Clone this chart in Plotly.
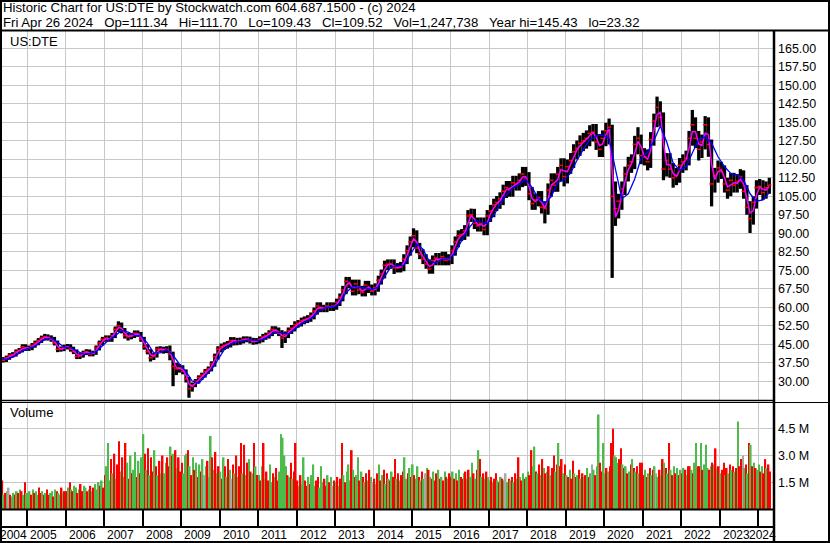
import plotly.graph_objects as go
import pandas as pd

W, H = 830, 543
FONT = 'Liberation Sans, Arial, sans-serif'
DAY = 86400000

title_1 = 'Historic Chart for US:DTE by Stockwatch.com 604.687.1500 - (c) 2024'
title_2 = ('Fri Apr 26 2024\u00a0\u00a0 Op=111.34\u00a0\u00a0 Hi=111.70\u00a0\u00a0 Lo=109.43\u00a0\u00a0 '
           'Cl=109.52\u00a0\u00a0 Vol=1,247,738\u00a0\u00a0 Year hi=145.43\u00a0\u00a0 lo=23.32')
symbol = 'US:DTE'

years = [2004, 2005, 2006, 2007, 2008, 2009, 2010, 2011, 2012, 2013, 2014,
         2015, 2016, 2017, 2018, 2019, 2020, 2021, 2022, 2023, 2024]
price_ticks = [30.0, 37.5, 45.0, 52.5, 60.0, 67.5, 75.0, 82.5, 90.0, 97.5, 105.0,
               112.5, 120.0, 127.5, 135.0, 142.5, 150.0, 157.5, 165.0]
vol_ticks = [1.5, 3.0, 4.5]
vol_tick_text = ['1.5 M', '3.0 M', '4.5 M']

# monthly bars, Apr 2004 .. Apr 2024 (one row per year)
px_hi = [
    40.2, 39.8, 40.4, 41.4, 41.8, 42.9, 43.5, 45.0, 45.0,
    44.5, 45.5, 46.5, 47.5, 48.5, 49.2, 49.0, 48.6, 48.0, 46.5, 44.1, 44.8,
    45.1, 45.0, 44.0, 42.9, 41.4, 42.4, 43.0, 42.9, 42.4, 44.5, 46.5, 48.0,
    48.6, 48.6, 49.6, 52.2, 54.3, 53.8, 51.6, 49.6, 49.6, 50.6, 50.6, 50.0,
    48.0, 45.0, 43.0, 41.5, 44.0, 44.2, 44.0, 44.2, 44.5, 42.0, 37.5, 37.0,
    36.5, 34.8, 31.8, 29.5, 30.9, 32.4, 33.5, 35.0, 36.0, 38.1, 41.2, 44.2,
    45.3, 45.8, 46.3, 47.9, 47.9, 47.6, 47.7, 48.2, 48.2, 48.1, 47.6, 47.5,
    48.2, 49.2, 49.7, 50.7, 52.3, 52.3, 51.8, 50.7, 50.2, 51.8, 52.8, 54.3,
    54.8, 55.8, 56.3, 56.8, 57.9, 59.9, 62.0, 62.0, 61.0, 62.0, 62.0, 62.0,
    63.5, 65.6, 68.7, 72.3, 72.3, 71.2, 71.2, 71.2, 68.7, 70.7, 70.7, 69.2,
    69.7, 72.8, 75.3, 78.9, 79.4, 79.4, 79.4, 77.9, 78.4, 81.5, 85.1, 88.7,
    92.0, 91.2, 86.1, 83.5, 81.5, 79.4, 81.0, 82.0, 82.0, 82.5, 82.5, 81.5,
    85.1, 88.7, 91.2, 91.7, 93.3, 99.4, 100.0, 99.9, 96.4, 96.4, 96.4, 99.4,
    101.5, 104.0, 105.1, 106.6, 109.7, 111.2, 111.2, 113.3, 113.3, 114.3, 116.9, 116.9,
    114.8, 108.7, 106.1, 107.1, 107.1, 103.0, 110.2, 114.3, 114.3, 116.9, 120.4, 120.4,
    119.9, 122.5, 126.1, 127.6, 129.7, 130.7, 131.7, 133.8, 134.3, 134.3, 130.2, 131.7,
    134.8, 136.5, 134.0, 111.0, 106.0, 111.0, 117.0, 121.0, 122.0, 129.5, 133.0, 130.0,
    124.5, 124.0, 131.0, 138.5, 145.4, 143.5, 139.0, 122.5, 122.5, 118.5, 116.5, 120.5,
    122.0, 123.5, 131.5, 140.0, 137.0, 131.5, 130.0, 137.5, 137.0, 128.0, 116.5, 119.5,
    119.0, 117.5, 112.5, 114.5, 114.5, 114.0, 116.0, 115.5, 109.5, 103.0, 105.0, 111.5,
    112.0, 111.5, 111.0, 112.5,
]
px_lo = [
    38.2, 37.6, 37.8, 38.7, 39.6, 40.0, 41.2, 41.7, 42.3,
    42.3, 42.6, 43.6, 44.6, 45.5, 46.5, 46.5, 46.0, 44.5, 41.8, 42.0, 42.2,
    42.9, 42.0, 41.0, 39.0, 39.0, 39.6, 40.6, 40.1, 40.1, 40.7, 42.5, 44.5,
    46.0, 46.0, 46.0, 47.5, 50.0, 49.4, 47.3, 46.5, 47.0, 47.5, 48.0, 46.0,
    42.8, 40.9, 38.0, 38.6, 39.6, 41.8, 41.2, 41.4, 38.5, 28.0, 32.5, 33.5,
    32.8, 29.5, 23.3, 25.8, 27.6, 29.1, 30.5, 31.5, 33.0, 34.0, 35.9, 38.8,
    41.7, 42.7, 43.2, 43.7, 44.5, 44.6, 44.8, 45.3, 45.8, 45.3, 44.8, 45.0,
    45.3, 45.8, 46.8, 47.3, 48.3, 49.2, 48.3, 43.5, 45.5, 47.5, 49.2, 50.2,
    51.7, 52.2, 53.1, 53.6, 54.1, 55.1, 57.0, 58.0, 58.0, 58.0, 58.5, 58.5,
    59.0, 60.5, 62.4, 65.3, 67.8, 64.8, 64.8, 65.3, 64.4, 64.4, 65.8, 64.8,
    64.8, 66.3, 69.2, 71.7, 75.1, 75.6, 73.5, 74.1, 74.1, 74.6, 77.5, 80.9,
    84.3, 81.9, 79.5, 77.5, 75.6, 73.6, 73.6, 77.0, 77.0, 77.0, 77.0, 77.0,
    77.5, 80.9, 84.3, 86.8, 87.3, 88.7, 94.6, 91.7, 90.7, 90.7, 89.2, 89.2,
    94.6, 96.5, 99.0, 99.9, 101.4, 104.3, 104.8, 104.8, 107.3, 107.3, 108.7, 109.2,
    103.4, 99.5, 99.5, 100.9, 98.0, 94.0, 97.5, 104.8, 106.8, 106.8, 111.2, 109.0,
    110.2, 114.1, 116.5, 120.0, 121.4, 123.3, 124.3, 125.3, 127.2, 123.8, 120.9, 120.9,
    125.3, 126.0, 71.9, 93.0, 96.0, 99.5, 105.5, 111.0, 114.5, 116.0, 122.0, 118.0,
    117.5, 115.5, 116.5, 125.5, 133.0, 133.5, 111.5, 113.0, 112.5, 108.5, 109.5, 110.5,
    114.5, 115.5, 117.5, 125.5, 124.5, 119.5, 120.5, 124.0, 121.0, 100.9, 106.5, 110.5,
    112.0, 106.5, 104.0, 105.0, 106.5, 106.5, 108.0, 104.0, 97.5, 90.1, 93.5, 100.0,
    105.5, 103.5, 104.0, 106.0,
]
px_cl = [
    39.0, 38.5, 39.5, 40.5, 40.8, 42.0, 42.5, 44.0, 43.2,
    43.5, 44.5, 45.5, 46.5, 47.5, 48.0, 47.5, 47.0, 45.5, 43.0, 43.0, 43.8,
    44.0, 43.0, 42.0, 40.0, 40.5, 41.5, 42.0, 41.0, 41.5, 43.5, 45.5, 47.0,
    47.5, 47.0, 48.5, 51.0, 52.5, 50.5, 48.5, 48.0, 48.5, 49.5, 49.0, 47.0,
    44.0, 42.0, 39.5, 40.5, 43.0, 43.0, 42.5, 43.0, 41.0, 36.0, 35.0, 35.5,
    34.0, 31.0, 27.0, 28.5, 30.0, 31.5, 32.5, 34.0, 35.0, 37.0, 40.0, 43.0,
    44.0, 44.5, 45.0, 46.5, 46.5, 46.0, 46.5, 47.0, 47.0, 46.5, 46.0, 46.5,
    47.0, 48.0, 48.5, 49.5, 51.0, 50.5, 49.5, 47.5, 49.0, 50.5, 51.5, 53.0,
    53.5, 54.5, 55.0, 55.5, 56.5, 58.5, 60.5, 59.5, 59.5, 60.5, 60.0, 60.5,
    62.0, 64.0, 67.0, 70.5, 69.5, 66.5, 69.5, 67.0, 66.0, 69.0, 67.5, 66.5,
    68.0, 71.0, 73.5, 77.0, 77.5, 77.5, 76.0, 76.0, 76.5, 79.5, 83.0, 86.5,
    89.0, 84.0, 81.5, 79.5, 77.5, 75.5, 79.0, 80.0, 79.0, 80.5, 79.0, 79.5,
    83.0, 86.5, 89.0, 89.5, 91.0, 97.0, 97.5, 94.0, 93.0, 94.0, 91.5, 97.0,
    99.0, 101.5, 102.5, 104.0, 107.0, 108.5, 107.5, 110.5, 110.0, 111.5, 114.0, 112.0,
    106.0, 102.0, 103.5, 104.5, 100.5, 100.0, 107.5, 111.5, 109.5, 114.0, 117.5, 113.0,
    117.0, 119.5, 123.0, 124.5, 126.5, 127.5, 128.5, 130.5, 131.0, 127.0, 124.0, 128.5,
    131.5, 133.0, 105.0, 100.0, 103.0, 108.0, 114.0, 117.5, 119.0, 126.0, 128.5, 121.5,
    121.0, 119.0, 128.0, 135.5, 141.0, 137.0, 116.0, 119.5, 116.0, 112.5, 113.5, 117.5,
    119.0, 120.5, 128.5, 134.0, 128.5, 124.0, 127.0, 134.0, 126.0, 110.0, 113.5, 116.5,
    115.0, 110.0, 107.5, 111.5, 109.5, 111.0, 113.0, 107.0, 100.5, 96.0, 102.5, 108.5,
    109.0, 106.5, 108.5, 109.5,
]
# magenta average, monthly
ma_fast = [
    39.2, 38.8, 39.0, 40.0, 40.6, 41.4, 42.2, 43.2, 43.6,
    43.4, 44.0, 45.0, 46.0, 47.0, 47.8, 47.8, 47.2, 46.2, 44.2, 43.0, 43.4,
    43.9, 43.5, 42.5, 41.0, 40.2, 41.0, 41.8, 41.5, 41.2, 42.5, 44.5, 46.2,
    47.2, 47.2, 47.8, 49.8, 51.8, 51.5, 49.5, 48.2, 48.2, 49.0, 49.2, 48.0,
    45.5, 43.0, 40.8, 40.0, 41.8, 43.0, 42.8, 42.8, 42.0, 38.5, 35.5, 35.2,
    34.8, 32.5, 29.0, 27.8, 29.2, 30.8, 32.0, 33.2, 34.5, 36.0, 38.5, 41.5,
    43.5, 44.2, 44.8, 45.8, 46.5, 46.2, 46.2, 46.8, 47.0, 46.8, 46.2, 46.2,
    46.8, 47.5, 48.2, 49.0, 50.2, 50.8, 50.0, 48.5, 48.2, 49.8, 51.0, 52.2,
    53.2, 54.0, 54.8, 55.2, 56.0, 57.5, 59.5, 60.0, 59.5, 60.0, 60.2, 60.2,
    61.2, 63.0, 65.5, 68.8, 70.0, 68.0, 68.0, 68.2, 66.5, 67.5, 68.2, 67.0,
    67.2, 69.5, 72.2, 75.2, 77.2, 77.5, 76.8, 76.0, 76.2, 78.0, 81.2, 84.8,
    87.8, 86.5, 82.8, 80.5, 78.5, 76.5, 77.2, 79.5, 79.5, 79.8, 79.8, 79.2,
    81.2, 84.8, 87.8, 89.2, 90.2, 94.0, 97.2, 95.8, 93.5, 93.5, 92.8, 94.2,
    98.0, 100.2, 102.0, 103.2, 105.5, 107.8, 108.0, 109.0, 110.2, 110.8, 112.8, 113.0,
    109.0, 104.0, 102.8, 104.0, 102.5, 100.2, 103.8, 109.5, 110.5, 111.8, 115.8, 115.2,
    115.0, 118.2, 121.2, 123.8, 125.5, 127.0, 128.0, 129.5, 130.8, 129.0, 125.5, 126.2,
    130.0, 132.2, 115.0, 96.5, 99.5, 105.5, 111.0, 115.8, 118.2, 122.5, 127.2, 125.0,
    121.2, 120.0, 123.5, 131.8, 138.2, 139.0, 126.5, 117.8, 117.8, 114.2, 113.0, 115.5,
    118.2, 119.8, 124.5, 131.2, 131.2, 126.2, 125.5, 130.5, 130.0, 118.0, 111.8, 115.0,
    115.8, 112.5, 108.8, 109.5, 110.5, 110.2, 112.0, 110.0, 103.8, 98.2, 99.2, 105.5,
    108.8, 107.8, 107.5, 109.0,
]
# blue average, every second month from Apr 2004
ma_slow = [
    38.9, 39.0, 39.8, 41.5, 42.9,
    43.8, 45.0, 46.9, 47.5, 45.8, 43.8,
    43.5, 42.2, 41.0, 41.2, 42.0, 44.4,
    46.8, 48.5, 50.6, 49.9, 48.6, 48.5,
    45.5, 41.5, 41.5, 42.9, 40.6, 36.9,
    33.9, 30.1, 29.2, 32.0, 34.6, 38.8,
    42.9, 45.0, 46.0, 46.5, 46.8, 46.5,
    46.9, 48.2, 49.9, 49.6, 49.1, 51.0,
    53.1, 54.6, 56.4, 58.8, 60.0, 60.1,
    61.6, 65.9, 68.4, 68.1, 67.9, 67.2,
    68.2, 72.4, 76.4, 76.8, 77.0, 81.4,
    85.6, 83.5, 78.5, 78.0, 79.6, 79.5,
    82.0, 87.0, 91.6, 94.9, 94.6, 93.9,
    97.2, 101.8, 105.5, 108.4, 109.9, 111.9,
    108.5, 104.0, 102.1, 104.9, 110.6, 111.5,
    114.5, 119.5, 124.0, 127.8, 129.5, 129.8,
    128.5, 116.0, 104.0, 106.0, 112.0, 120.5,
    123.0, 127.5, 133.5, 127.0, 118.5, 115.6,
    116.9, 122.5, 128.0, 129.1, 126.5, 121.0,
    117.0, 114.3, 113.6, 111.6, 106.0, 103.0,
    103.5, 106.5,
]
# volume in millions, half-month bars from mid Apr 2004
vol = [
    0.9, 1.6, 0.8, 0.9, 1.0, 1.2, 0.8, 0.7, 0.9, 0.8, 1.0, 0.9, 1.1, 1.0, 0.8, 1.5, 0.9,
    0.9, 1.0, 0.8, 1.1, 0.9, 1.0, 0.8, 1.2, 0.9, 1.0, 0.8, 0.9, 1.1, 0.8, 0.9, 1.0, 0.7, 1.1, 1.0, 0.9, 0.8, 1.2, 0.9, 1.0,
    1.0, 1.2, 1.5, 1.1, 1.0, 1.3, 1.2, 0.9, 1.1, 1.4, 1.0, 1.3, 1.2, 1.0, 1.1, 1.3, 1.0, 1.2, 1.4, 1.1, 1.5, 1.3, 1.6, 1.2,
    1.9, 2.4, 3.7, 1.6, 2.8, 2.0, 3.1, 1.7, 2.5, 3.8, 2.1, 2.9, 1.8, 3.7, 2.6, 1.7, 3.0, 2.0, 2.2, 3.2, 1.8, 2.7, 2.0, 2.9,
    4.2, 3.1, 2.2, 3.4, 1.9, 2.9, 2.1, 3.3, 2.4, 1.9, 2.7, 2.0, 3.0, 2.0, 2.6, 2.9, 2.4, 3.5, 3.0, 3.1, 3.3, 2.3, 2.9, 2.1,
    2.6, 2.0, 3.0, 3.1, 3.3, 2.4, 1.9, 2.9, 2.2, 2.6, 1.8, 2.5, 2.1, 2.8, 1.9, 2.4, 2.7, 1.8, 4.1, 2.9, 2.2, 3.2, 2.0, 2.4,
    2.1, 1.7, 2.9, 2.4, 1.8, 2.8, 2.2, 1.7, 2.5, 2.0, 3.0, 1.8, 2.4, 3.7, 2.0, 3.6, 1.9, 2.6, 2.8, 2.1, 2.0, 3.7, 2.4, 1.9,
    1.9, 1.6, 2.4, 3.7, 1.7, 2.1, 1.6, 2.5, 1.5, 2.0, 1.8, 2.3, 1.6, 2.1, 4.2, 4.0, 3.0, 2.4, 1.9, 1.8, 2.6, 1.7, 2.1, 3.7,
    1.6, 1.3, 1.9, 1.4, 2.9, 1.6, 1.3, 1.8, 1.4, 1.9, 2.5, 1.3, 1.6, 1.8, 1.2, 2.4, 1.5, 1.7, 1.3, 1.9, 1.5, 1.8, 1.3, 1.6,
    1.5, 1.8, 1.3, 1.7, 3.7, 1.9, 1.5, 2.1, 2.5, 1.6, 3.3, 2.2, 1.8, 1.9, 2.9, 1.6, 2.1, 1.8, 1.5, 2.0, 1.6, 2.2, 1.8, 1.5,
    1.7, 1.4, 2.0, 2.5, 1.6, 1.9, 2.2, 1.4, 2.0, 1.7, 1.6, 2.1, 1.8, 2.8, 1.7, 2.0, 1.6, 1.9, 2.1, 2.9, 1.7, 2.0, 2.3, 1.8,
    2.5, 1.9, 1.7, 2.4, 1.8, 1.6, 2.1, 1.7, 2.0, 2.3, 2.2, 1.8, 1.7, 2.1, 1.6, 2.0, 2.2, 1.7, 1.8, 1.6, 2.1, 1.8, 1.7, 2.0,
    1.8, 2.1, 1.7, 2.0, 1.6, 2.2, 1.8, 1.7, 2.0, 2.1, 1.7, 2.2, 1.8, 2.6, 2.0, 1.7, 2.2, 3.3, 2.8, 1.8, 2.0, 1.7, 2.1, 1.8,
    1.6, 1.8, 1.5, 1.7, 2.0, 1.6, 1.5, 1.8, 1.7, 1.6, 2.0, 1.5, 1.7, 1.6, 1.8, 1.5, 2.0, 1.7, 2.9, 1.8, 1.6, 2.0, 1.7, 1.8,
    2.1, 1.9, 3.3, 2.4, 3.5, 2.1, 2.0, 2.5, 1.9, 2.8, 2.3, 2.0, 2.1, 2.4, 1.9, 2.3, 3.0, 2.1, 2.5, 3.7, 2.4, 2.8, 2.0, 2.5,
    1.9, 1.8, 2.2, 1.7, 2.7, 2.0, 1.8, 1.9, 2.2, 1.7, 2.0, 1.8, 1.9, 2.3, 1.8, 2.0, 2.5, 2.2, 1.9, 2.4, 5.3, 2.6, 2.1, 3.7,
    2.0, 2.3, 2.1, 2.4, 3.7, 4.5, 3.0, 2.9, 2.6, 2.8, 3.4, 2.5, 2.3, 2.4, 2.0, 2.1, 2.5, 2.8, 2.3, 2.1, 2.4, 2.0, 2.6, 2.6,
    1.9, 2.2, 1.8, 2.0, 2.3, 1.9, 2.2, 2.4, 2.0, 1.8, 2.2, 1.9, 2.8, 2.6, 2.3, 2.0, 3.7, 2.2, 1.9, 2.4, 2.0, 2.3, 1.9, 2.2,
    2.0, 2.3, 2.2, 1.9, 2.4, 2.4, 2.2, 2.0, 2.6, 3.7, 2.4, 2.4, 3.7, 2.2, 2.5, 3.6, 2.3, 2.2, 2.4, 2.6, 2.5, 3.4, 2.3, 2.4,
    2.0, 2.2, 2.6, 1.9, 2.3, 2.0, 2.5, 2.2, 2.4, 2.1, 2.3, 4.9, 2.4, 2.8, 3.0, 2.3, 2.5, 2.0, 3.7, 3.6, 2.4, 2.6, 2.3, 2.2,
    2.5, 2.1, 2.4, 2.0, 2.8, 2.3, 2.5, 2.1,
]
# g = up day, r = down day, n = unchanged
vol_col = (
    'grgrgnrggrgrgrgrg'
    'ggrgrggrrgrgrrggrgrggrgr'
    'rgrgrggrgrrggrgrgrgggrgr'
    'rgggrgrgrrgrgrgrgrggrgrg'
    'grgrgrrgrgrgrggrrgrgrgrr'
    'rgggrgrgrgrgrgngrggrgrgr'
    'grgrgrgnrgrgrrgrgrgrgrgr'
    'grgrgrrggrgrrgggggrgrgrr'
    'rgrggrrgrgggrrgggrrgrgnr'
    'grgrrgrgggrgrggrgrgrgrgn'
    'rgrgrgrgrgrgrrgrgrrggrgr'
    'grggrgrgngrgrgrrgrgrgrgr'
    'rgrgrgrrgrgrggrgrgrgrgrg'
    'grgrrgrgrgngrgrgrgrgrgrg'
    'grrggrgrgrgrgrgrrgrgrrgr'
    'grgrrgrgrgrgrgrgngrggrrg'
    'grgrrrgggrrgrgrgrgrgrgrr'
    'rgrgrgrgngrgrgrgrgrgrgrg'
    'rgrgrrgrggrrgrgggrgrgrgr'
    'grrgrgrgrgrgrrngrgrgrgrg'
    'grgrrgrr'
)

month_x = pd.date_range('2004-04-01', periods=len(px_cl), freq='MS') + pd.Timedelta(days=14)
slow_x = pd.date_range('2004-04-01', periods=len(ma_slow), freq='2MS') + pd.Timedelta(days=14)
half_x = pd.date_range('2004-04-15', periods=len(vol), freq='SMS') + pd.Timedelta(days=7)
year_x = [f'{y}-01-01' for y in years]
colmap = {'g': '#4cbb4c', 'r': '#ff0000', 'n': '#a8a8a8'}
x_range = ['2004-04-16', '2024-05-20']


def px(x):
    return x / W


def py(y):
    return 1 - y / H


fig = go.Figure()
fig.add_trace(go.Bar(x=month_x, y=[h - l for h, l in zip(px_hi, px_lo)], base=px_lo,
                     width=31 * DAY, marker=dict(color='black', line_width=0),
                     xaxis='x', yaxis='y'))
fig.add_trace(go.Scatter(x=month_x, y=px_cl, mode='markers',
                         marker=dict(symbol='line-ew', size=3, line=dict(color='red', width=1.5)),
                         xaxis='x', yaxis='y'))
fig.add_trace(go.Scatter(x=month_x, y=ma_fast, mode='lines',
                         line=dict(color='#ff00ff', width=1.5), xaxis='x', yaxis='y'))
fig.add_trace(go.Scatter(x=slow_x, y=ma_slow, mode='lines',
                         line=dict(color='#0000ff', width=1.3), xaxis='x', yaxis='y'))
fig.add_trace(go.Bar(x=half_x, y=vol, width=15.2 * DAY,
                     marker=dict(color=[colmap[c] for c in vol_col], line_width=0),
                     xaxis='x2', yaxis='y2'))
fig.add_trace(go.Scatter(x=[], y=[], xaxis='x3', yaxis='y3'))

dom_x = [0, px(773)]
grid = dict(showgrid=True, gridcolor='#c8c8c8', gridwidth=1, zeroline=False,
            showline=False, ticks='')
xcommon = dict(type='date', range=x_range, domain=dom_x, tickvals=year_x,
               showticklabels=False, **grid)
tickfont = dict(family=FONT, size=12.5, color='black')

fig.update_layout(
    width=W, height=H, margin=dict(l=0, r=0, t=0, b=0),
    paper_bgcolor='white', plot_bgcolor='white',
    showlegend=False, barmode='overlay',
    xaxis=dict(anchor='y', **xcommon),
    xaxis2=dict(anchor='y2', matches='x', **xcommon),
    xaxis3=dict(anchor='y3', matches='x', **dict(xcommon, gridcolor='black', gridwidth=1.5)),
    yaxis=dict(anchor='x', domain=[py(400), py(31)], range=[22.4, 172.0], side='right',
               tickvals=price_ticks, ticktext=[f'{v:.2f}' for v in price_ticks],
               tickfont=tickfont, ticklabelstandoff=4, **grid),
    yaxis2=dict(anchor='x2', domain=[py(509), py(402)], range=[0, 6.0], side='right',
                tickvals=vol_ticks, ticktext=vol_tick_text, tickfont=tickfont,
                ticklabelstandoff=4, **grid),
    yaxis3=dict(anchor='x3', domain=[py(527), py(509)], range=[0, 1], showgrid=False,
                showticklabels=False, zeroline=False, ticks=''),
)

ann = dict(xref='paper', yref='paper', xanchor='left', yanchor='middle', showarrow=False)
fig.add_annotation(text=title_1, x=px(1), y=py(8), font=dict(family=FONT, size=13.2, color='black'), **ann)
fig.add_annotation(text=title_2, x=px(1), y=py(22), font=dict(family=FONT, size=13.2, color='black'), **ann)
fig.add_annotation(text=symbol, x=px(8), y=py(41.5), font=dict(family=FONT, size=13, color='black'), **ann)
fig.add_annotation(text='Volume', x=px(8), y=py(413), font=dict(family=FONT, size=13, color='black'), **ann)

# year labels: left aligned in each year cell, squeezed at both ends of the axis
for i, y in enumerate(years):
    if i == 0:
        pos, anchor, shift = x_range[0], 'left', -1
    elif i == len(years) - 1:
        pos, anchor, shift = x_range[1], 'right', 4
    else:
        pos, anchor, shift = year_x[i], 'left', 2
    fig.add_annotation(text=str(y), x=pos, xref='x', xanchor=anchor, xshift=shift,
                       y=py(534.5), yref='paper', yanchor='middle', showarrow=False,
                       borderpad=0, font=dict(family=FONT, size=12, color='black'))


def hline(y, x0, x1, w):
    fig.add_shape(type='line', xref='paper', yref='paper', x0=px(x0), x1=px(x1),
                  y0=py(y), y1=py(y), line=dict(color='black', width=w), layer='above')


hline(30.5, 0, 830, 2)
hline(400.5, 0, 774, 1.5)
hline(402.5, 0, 830, 1)
hline(509.5, 0, 774, 2)
hline(527, 0, 774, 2)
fig.add_shape(type='line', xref='paper', yref='paper', x0=px(774), x1=px(774),
              y0=py(30), y1=py(543), line=dict(color='black', width=2.5), layer='above')
fig.add_shape(type='rect', xref='paper', yref='paper', x0=px(1), x1=px(829),
              y0=py(542), y1=py(1), line=dict(color='black', width=2), layer='above')

fig.write_html('out.html', config={'displayModeBar': False},
               post_script="document.body.style.margin='0';")
